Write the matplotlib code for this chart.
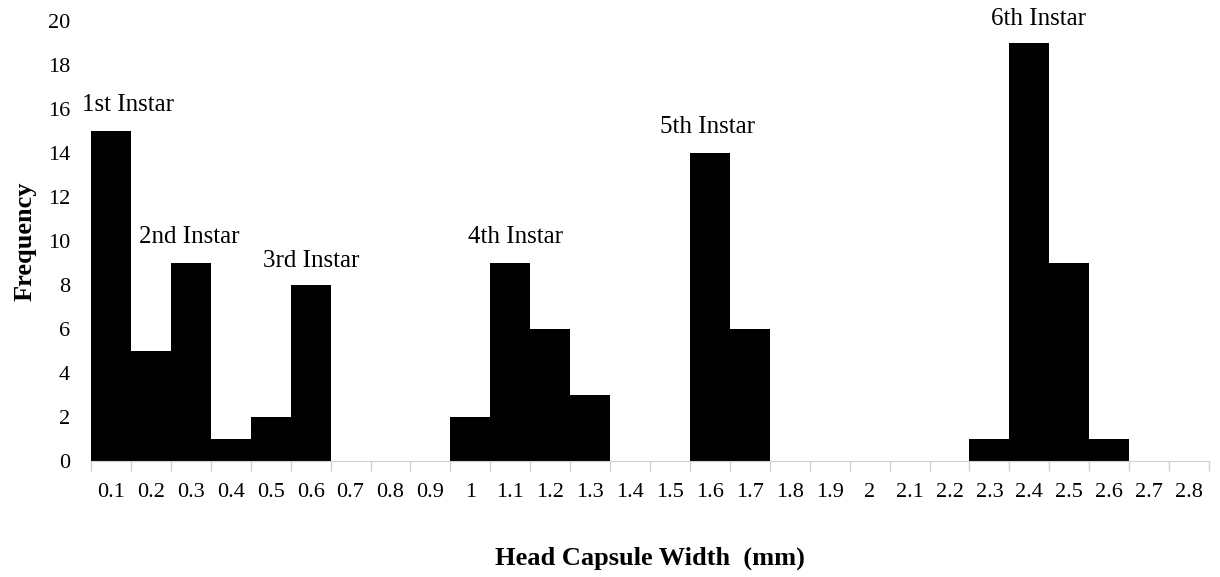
import matplotlib.pyplot as plt
import numpy as np

plt.rcParams['font.family'] = ['Liberation Serif', 'DejaVu Serif']

# head capsule width bins (mm) and counts
widths = ['0.1', '0.2', '0.3', '0.4', '0.5', '0.6', '0.7', '0.8', '0.9', '1',
          '1.1', '1.2', '1.3', '1.4', '1.5', '1.6', '1.7', '1.8', '1.9', '2',
          '2.1', '2.2', '2.3', '2.4', '2.5', '2.6', '2.7', '2.8']
counts = [15, 5, 9, 1, 2, 8, 0, 0, 0, 2,
          9, 6, 3, 0, 0, 14, 6, 0, 0, 0,
          0, 0, 1, 19, 9, 1, 0, 0]

instars = ['1st Instar', '2nd Instar', '3rd Instar', '4th Instar', '5th Instar', '6th Instar']
# label anchor (bin position, frequency)
instar_x = [0.93, 2.45, 5.51, 10.62, 15.43, 23.72]
instar_y = [16.2, 10.2, 9.1, 10.2, 15.2, 20.1]

fig = plt.figure(figsize=(12.2, 5.77), dpi=100)
ax = fig.add_axes([0.0746, 0.201, 0.9164, 0.7626])

x = np.arange(len(widths))
ax.bar(x + 0.5, counts, width=1.0, color='black', edgecolor='black', linewidth=0)

for name, lx, ly in zip(instars, instar_x, instar_y):
    ax.text(lx, ly, name, ha='center', va='center', fontsize=18)

ax.set_xlim(0, len(widths))
ax.set_ylim(0, 20)
ax.set_yticks(range(0, 21, 2))
ax.set_xticks(x + 0.5)
ax.set_xticklabels(widths)
ax.set_xticks(np.arange(len(widths) + 1), minor=True)
ax.tick_params(axis='x', which='major', length=0, labelsize=16, pad=16)
ax.tick_params(axis='x', which='minor', length=7, color='#d0d0d0', width=1)
ax.tick_params(axis='y', length=0, labelsize=16, pad=15)

for s in ['top', 'right', 'left']:
    ax.spines[s].set_visible(False)
ax.spines['bottom'].set_color('#d0d0d0')

ax.set_xlabel('Head Capsule Width  (mm)', fontsize=19, fontweight='bold', labelpad=32)
ax.set_ylabel('Frequency', fontsize=19, fontweight='bold', labelpad=8)

fig.savefig('out.png', dpi=100)
